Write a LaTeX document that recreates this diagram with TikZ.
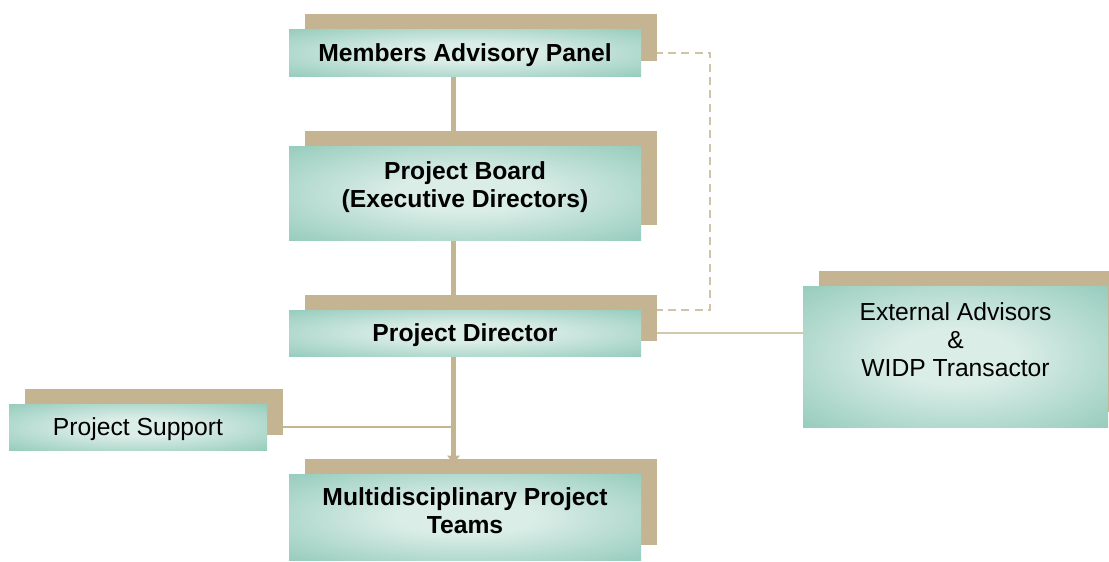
\documentclass[tikz,border=0pt]{standalone}
\usepackage{fontspec}
\setmainfont{Liberation Sans}
\usetikzlibrary{shadows,backgrounds,arrows.meta}

\definecolor{boxteal}{HTML}{90C9B9}
\definecolor{boxlight}{HTML}{DAEDE7}
\definecolor{linktan}{HTML}{C4B491}
\pgfdeclareradialshading{boxglow}{\pgfpoint{0bp}{0bp}}{color(0bp)=(boxlight); color(10bp)=(boxlight); color(38bp)=(boxteal); color(50bp)=(boxteal)}

\tikzset{
  unit/.style={shade, shading=boxglow, general shadow={fill=linktan, shadow xshift=12pt, shadow yshift=11.25pt},
    minimum width=264pt, align=center, inner sep=0pt, text depth=0pt, font=\fontsize{18.5}{21}\selectfont\bfseries},
  nonbold/.style={font=\fontsize{18.5}{21}\selectfont},
  link/.style={draw=linktan, line width=1.5pt},
}

\begin{document}
\begin{tikzpicture}[x=0.75pt,y=-0.75pt]
			\useasboundingbox (0,0) rectangle (1109,561);
			\node[unit, minimum height=35.25pt] (v1) at (465,52.5) {Members Advisory Panel};
			\node[unit, minimum height=70.5pt, text depth=13pt] (v2) at (465,193) {Project Board\\(Executive Directors)};
			\node[unit, minimum height=34.5pt] (v3) at (465,333) {Project Director};
			\node[unit, nonbold, minimum width=193.5pt, minimum height=34.5pt] (v4) at (138,427) {Project Support};
			\node[unit, minimum height=64.5pt, text depth=9pt] (v5) at (465,517) {Multidisciplinary Project\\Teams};
			\node[unit, nonbold, minimum width=228.75pt, minimum height=105.75pt] (v6) at (955.5,356.5) {External Advisors\\\&\\WIDP Transactor\\[5pt]\mbox{}};
			\coordinate (spine) at (453.5,0);
			\coordinate (turn) at (710,52.5);
			\begin{scope}[on background layer]
				\draw[link, line width=3.75pt] (v1.south -| spine) -- (v2.north -| spine)
				(v2.south -| spine) -- (v3.north -| spine);
				\draw[link, line width=3.75pt, -{Triangle[width=9pt,length=6pt]}, shorten >=7.5pt] (v3.south -| spine) -- (v5.north -| spine);
				\draw[link] (v4.east) -- (v4.east -| spine);
				\draw[link, draw=linktan!75] (v3.east) -- (v3.east -| v6.west);
				\draw[link, draw=linktan!80, dash pattern=on 6pt off 4pt] (v1.east) -- (turn) |- (v3.north east);
			\end{scope}
		\end{tikzpicture}
\end{document}
